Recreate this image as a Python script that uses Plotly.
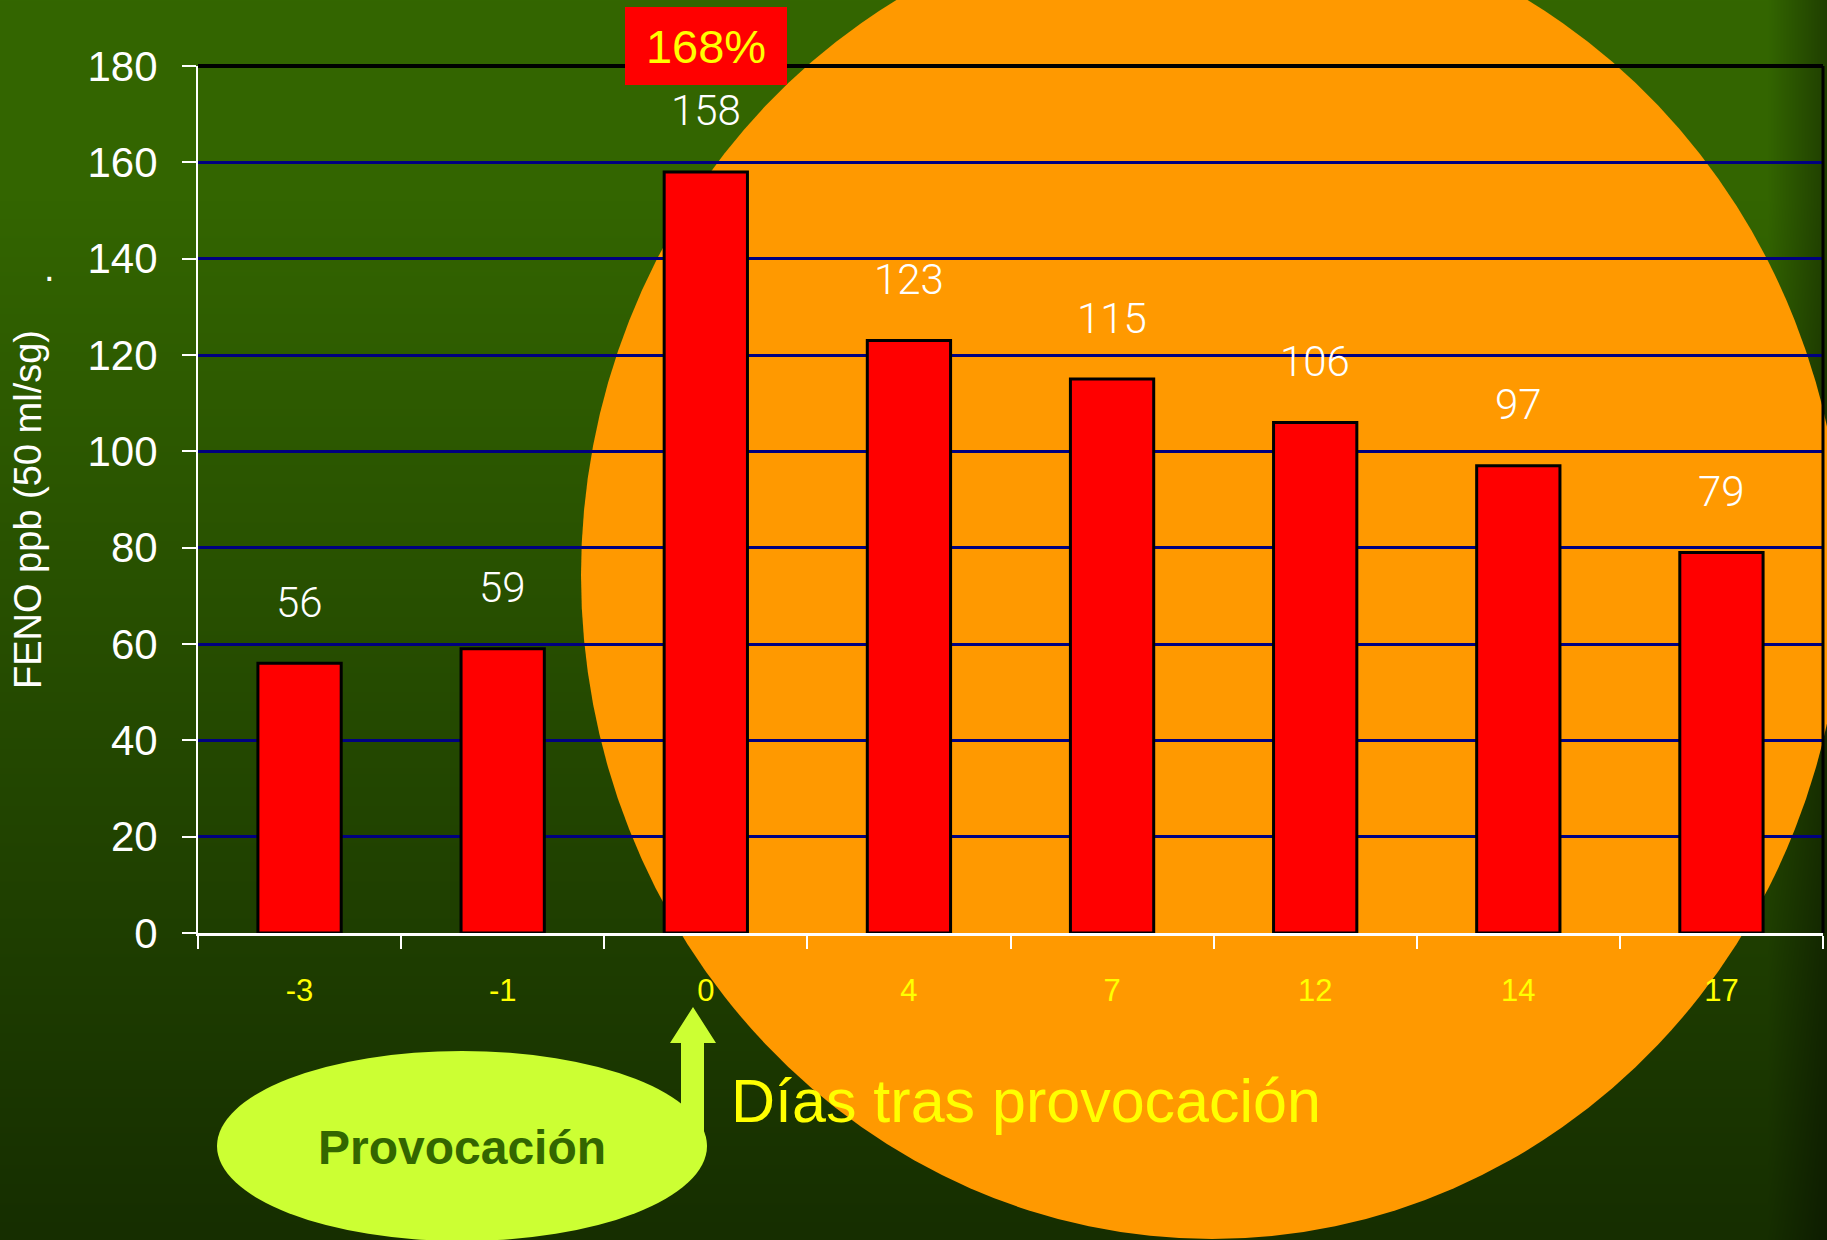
import base64
import struct
import zlib

import numpy as np
import plotly.graph_objects as go

# ---- data -------------------------------------------------------------
days = ["-3", "-1", "0", "4", "7", "12", "14", "17"]      # days after challenge
feno = [56, 59, 158, 123, 115, 106, 97, 79]               # FENO, ppb at 50 ml/s
y_ticks = [0, 20, 40, 60, 80, 100, 120, 140, 160, 180]
peak_label = "168%"
peak_day = "0"

# ---- page geometry (px) -------------------------------------------------
W, H = 1827, 1240
PLOT_L, PLOT_R, PLOT_T, PLOT_B = 198, 1823, 66, 933
PW, PH = PLOT_R - PLOT_L, PLOT_B - PLOT_T


def px(x):
    """page pixel x -> paper fraction"""
    return (x - PLOT_L) / PW


def py(y):
    """page pixel y -> paper fraction"""
    return (PLOT_B - y) / PH


SANS = "Liberation Sans, Arial, sans-serif"
LIGHT = "Roboto, Liberation Sans, Arial, sans-serif"


# ---- slide background: vertical green gradient, darker at the right edge ----
def png_uri(rgb):
    h, w, _ = rgb.shape
    raw = b"".join(b"\x00" + rgb[r].tobytes() for r in range(h))

    def chunk(tag, data):
        return (struct.pack(">I", len(data)) + tag + data
                + struct.pack(">I", zlib.crc32(tag + data) & 0xFFFFFFFF))

    png = (b"\x89PNG\r\n\x1a\n"
           + chunk(b"IHDR", struct.pack(">IIBBBBB", w, h, 8, 2, 0, 0, 0))
           + chunk(b"IDAT", zlib.compress(raw, 9))
           + chunk(b"IEND", b""))
    return "data:image/png;base64," + base64.b64encode(png).decode()


rows = np.arange(H, dtype=float)
stops_y = [0, 200, H]
col_r = np.interp(rows, stops_y, [51, 51, 22])
col_g = np.interp(rows, stops_y, [102, 101, 46])
cols = np.arange(W, dtype=float)
shade = np.interp(cols, [0, 1767, W], [1.0, 1.0, 0.62])
bg = np.zeros((H, W, 3), dtype=np.uint8)
bg[:, :, 0] = np.clip(col_r[:, None] * shade[None, :], 0, 255).astype(np.uint8)
bg[:, :, 1] = np.clip(col_g[:, None] * shade[None, :], 0, 255).astype(np.uint8)
bg_uri = png_uri(bg)

# category positions (index along the category axis)
idx = list(range(len(days)))
peak_idx = days.index(peak_day)

# ---- figure -------------------------------------------------------------
fig = go.Figure()
fig.add_trace(go.Bar(
    x=days, y=feno,
    marker=dict(color="#FF0000", line=dict(color="#000000", width=3)),
    hoverinfo="skip",
))

shapes = [
    # large orange disc behind the chart
    dict(type="circle", xref="paper", yref="paper", layer="below",
         x0=px(581), x1=px(1843), y0=py(1239), y1=py(-89),
         fillcolor="#FF9900", line=dict(width=0)),
    # top and right frame of the plot area
    dict(type="line", xref="paper", yref="paper", x0=0, x1=1, y0=1, y1=1,
         line=dict(color="#000000", width=4)),
    dict(type="line", xref="paper", yref="paper", x0=1, x1=1, y0=0, y1=1,
         line=dict(color="#000000", width=3)),
    # "Provocación" bubble
    dict(type="circle", xref="paper", yref="paper", layer="above",
         x0=px(217), x1=px(707), y0=py(1241), y1=py(1051),
         fillcolor="#CCFF33", line=dict(width=0)),
    # upward arrow pointing at day 0
    dict(type="path", xref="paper", yref="paper", layer="above",
         path=("M {a},{b} L {c},{d} L {e},{d} L {e},{f} L {g},{f} L {g},{d} "
               "L {h},{d} Z").format(
             a=px(693), b=py(1007), c=px(716), d=py(1043), e=px(704),
             f=py(1132), g=px(681), h=px(670)),
         fillcolor="#CCFF33", line=dict(width=0)),
]

annotations = []
# value labels above bars
for i, v in zip(idx, feno):
    annotations.append(dict(
        x=i, y=v, xref="x", yref="y", text=str(v), showarrow=False,
        xanchor="center", yanchor="middle", yshift=61,
        font=dict(family=LIGHT, size=42, weight=300, color="#FFFFFF")))

# percent increase badge above the peak
annotations.append(dict(
    x=peak_idx, y=py(46), xref="x", yref="paper", text=peak_label,
    showarrow=False, xanchor="center", yanchor="middle",
    width=162, height=78, bgcolor="#FF0000", borderpad=0, borderwidth=0,
    font=dict(family=SANS, size=47, color="#FFFF00")))

# y-axis title
annotations.append(dict(
    x=px(28), y=py(510), xref="paper", yref="paper",
    text="FENO ppb (50 ml/sg)", textangle=-90, showarrow=False,
    xanchor="center", yanchor="middle",
    font=dict(family=SANS, size=38, color="#FFFFFF")))
annotations.append(dict(
    x=px(49), y=py(268), xref="paper", yref="paper", text=".",
    showarrow=False, xanchor="center", yanchor="middle",
    font=dict(family=SANS, size=38, color="#FFFFFF")))

# x-axis caption and challenge bubble text
annotations.append(dict(
    x=px(729), y=py(1101), xref="paper", yref="paper",
    text="Días tras provocación", showarrow=False,
    xanchor="left", yanchor="middle",
    font=dict(family=SANS, size=61, color="#FFFF00")))
annotations.append(dict(
    x=px(462), y=py(1147), xref="paper", yref="paper",
    text="<b>Provocación</b>", showarrow=False,
    xanchor="center", yanchor="middle",
    font=dict(family=SANS, size=48, color="#336600")))

fig.update_layout(
    width=W, height=H,
    margin=dict(l=PLOT_L, r=W - PLOT_R, t=PLOT_T, b=H - PLOT_B, pad=0),
    paper_bgcolor="#2a5200",
    plot_bgcolor="rgba(0,0,0,0)",
    bargap=0.59,
    showlegend=False,
    shapes=shapes,
    annotations=annotations,
    images=[dict(source=bg_uri, xref="paper", yref="paper",
                 x=px(0), y=py(0), sizex=W / PW, sizey=H / PH,
                 xanchor="left", yanchor="top", sizing="stretch",
                 layer="below")],
    xaxis=dict(
        type="category", categoryorder="array", categoryarray=days,
        range=[-0.5, len(days) - 0.5], autorange=False,
        showgrid=False, zeroline=False,
        showline=True, linecolor="#FFFFFF", linewidth=3,
        ticks="outside", tickson="boundaries", ticklen=13,
        tickwidth=2, tickcolor="#FFFFFF",
        ticklabelstandoff=28,
        tickfont=dict(family=SANS, size=31, color="#FFFF00"),
        automargin=False, fixedrange=True,
    ),
    yaxis=dict(
        range=[0, 180], tickvals=y_ticks,
        showgrid=True, gridcolor="#000080", gridwidth=3,
        zeroline=False,
        showline=True, linecolor="#FFFFFF", linewidth=2,
        ticks="outside", ticklen=14, tickwidth=2, tickcolor="#FFFFFF",
        ticklabelstandoff=16,
        tickfont=dict(family=SANS, size=42, color="#FFFFFF"),
        automargin=False, fixedrange=True,
    ),
)

fig.write_html("out.html", config={"displayModeBar": False})
